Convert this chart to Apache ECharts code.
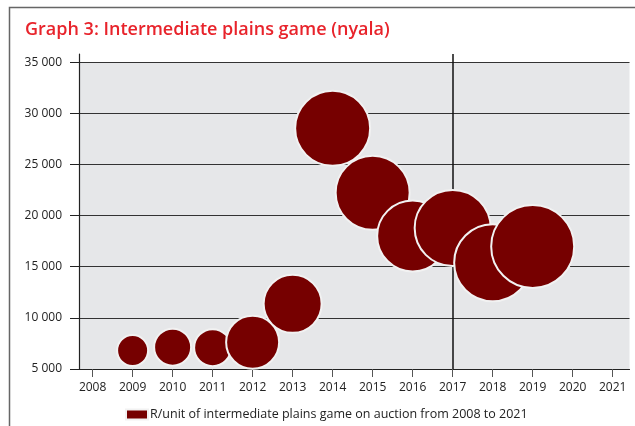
<!DOCTYPE html>
<html>
<head>
<meta charset="utf-8">
<script src="https://cdn.jsdelivr.net/npm/echarts@6/dist/echarts.min.js"></script>
<style>
  html, body { margin: 0; padding: 0; background: #fff; }
  #chart { width: 635px; height: 426px; }
</style>
</head>
<body>
<div id="chart"></div>
<script>
// 数据
const years = [2009, 2010, 2011, 2012, 2013, 2014, 2015, 2016, 2017, 2018, 2019];
const pricePerUnit = [6800, 7130, 7090, 7620, 11370, 28530, 22230, 18010, 18790, 15390, 16980];
const bubbleWeight = [31, 37, 37, 53, 58, 75, 74, 71, 76, 77, 83];
const xTickLabels = [2008, 2009, 2010, 2011, 2012, 2013, 2014, 2015, 2016, 2017, 2018, 2019, 2020, 2021];
const yTickValues = [5000, 10000, 15000, 20000, 25000, 30000, 35000];
const markerYear = 2017;
const seriesName = 'R/unit of intermediate plains game on auction from 2008 to 2021';

const chart = echarts.init(document.getElementById('chart'));

const fontFamily = "'Open Sans', 'Noto Sans', sans-serif";
const bubbleColor = '#760000';

const option = {
  backgroundColor: '#fff',
  animation: false,
  title: {
    text: 'Graph 3: Intermediate plains game (nyala)',
    left: 20,
    top: 16,
    textStyle: {
      color: '#e8232b',
      fontSize: 18,
      fontWeight: 600,
      fontFamily: fontFamily
    }
  },
  graphic: [
    {
      type: 'rect',
      left: 7,
      top: 5,
      shape: { width: 700, height: 500 },
      style: { fill: 'none', stroke: '#666', lineWidth: 1.5 },
      silent: true
    }
  ],
  legend: {
    data: [seriesName],
    left: 120,
    top: 403,
    icon: 'rect',
    itemWidth: 22,
    itemHeight: 10,
    itemGap: 4,
    textStyle: { fontSize: 12.5, color: '#222', fontFamily: fontFamily, padding: [0, 0, 0, -3] }
  },
  grid: {
    left: 79,
    right: 5.5,
    top: 54,
    bottom: 57
  },
  xAxis: {
    type: 'value',
    min: 2007.66,
    max: 2021.42,
    axisLine: { show: true, onZero: false, lineStyle: { color: '#222', width: 1.2 } },
    axisTick: {
      show: true,
      length: 8,
      customValues: xTickLabels,
      lineStyle: { color: '#555', width: 1 }
    },
    axisLabel: {
      customValues: xTickLabels,
      margin: 13,
      fontSize: 12,
      color: '#222',
      fontFamily: fontFamily,
      formatter: v => String(v)
    },
    splitLine: { show: false }
  },
  yAxis: {
    type: 'value',
    min: 5000,
    max: 35800,
    axisLine: { show: true, lineStyle: { color: '#222', width: 1.2 } },
    axisTick: {
      show: true,
      length: 9,
      customValues: yTickValues,
      lineStyle: { color: '#222', width: 1 }
    },
    axisLabel: {
      customValues: yTickValues,
      margin: 17,
      fontSize: 12,
      color: '#222',
      fontFamily: fontFamily,
      formatter: v => {
        const s = String(v);
        return s.length > 3 ? s.slice(0, s.length - 3) + ' ' + s.slice(-3) : s;
      }
    },
    splitLine: { show: true, lineStyle: { color: '#333', width: 1.2 } },
    splitArea: { show: true, areaStyle: { color: ['#e6e7e9'] } }
  },
  series: [
    {
      // 2017 竖线
      type: 'line',
      data: [],
      z: 2,
      silent: true,
      markLine: {
        silent: true,
        symbol: ['none', 'none'],
        label: { show: false },
        lineStyle: { color: '#111', width: 1.5, type: 'solid' },
        data: [{ xAxis: markerYear }]
      }
    },
    {
      name: seriesName,
      type: 'scatter',
      z: 5,
      data: years.map((y, i) => [y, pricePerUnit[i], bubbleWeight[i]]),
      symbolSize: d => d[2],
      itemStyle: {
        color: bubbleColor,
        borderColor: '#f2f2f2',
        borderWidth: 2,
        opacity: 1
      }
    }
  ]
};

chart.setOption(option);
</script>
</body>
</html>
